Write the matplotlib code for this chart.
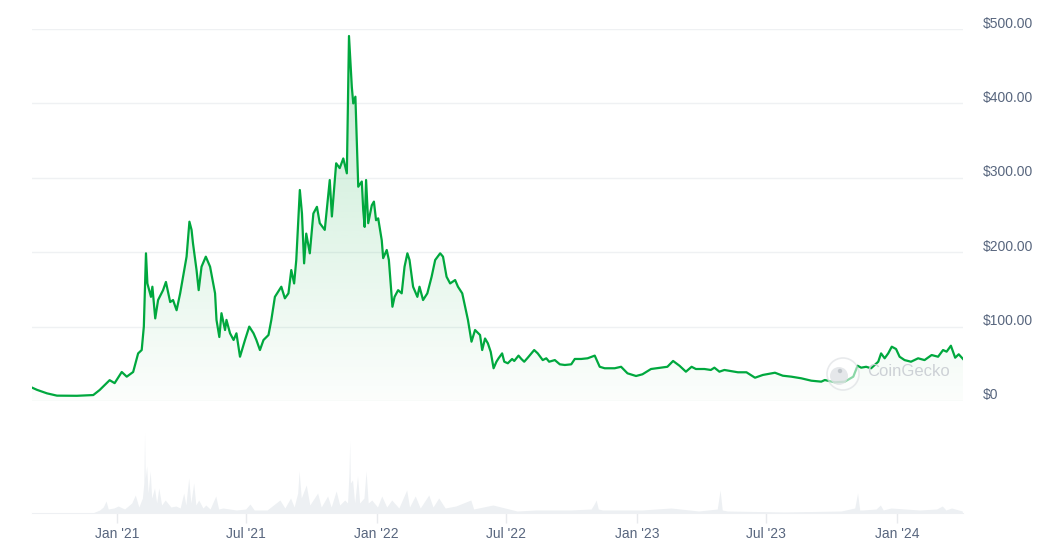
import numpy as np
import pandas as pd
import matplotlib
matplotlib.use("Agg")
import matplotlib.pyplot as plt
import matplotlib.dates as mdates
from matplotlib.colors import to_rgb
from matplotlib.patches import Circle
from matplotlib.transforms import ScaledTranslation

plt.rcParams['font.family'] = ['Liberation Sans', 'DejaVu Sans']

# price series (days after start date, USD)
start_date = "2020-09-04"
price_day = [
    0, 7, 21, 35, 63, 86, 95, 109, 116, 126, 133, 142, 149, 154, 157, 160, 162, 167,
    169, 173, 177, 184, 188, 194, 198, 203, 208, 212, 217, 221, 224, 226, 231, 234,
    238, 244, 250, 257, 259, 263, 266, 271, 273, 278, 283, 287, 292, 299, 305, 311,
    315, 320, 325, 332, 336, 341, 350, 355, 360, 364, 368, 371, 376, 379, 382, 385,
    390, 395, 400, 404, 411, 418, 421, 427, 432, 437, 442, 445, 449, 451, 454, 458,
    463, 465, 467, 469, 472, 477, 480, 483, 486, 491, 493, 498, 501, 506, 509, 514,
    519, 523, 527, 530, 535, 541, 544, 549, 555, 561, 566, 573, 577, 582, 587, 594,
    598, 604, 608, 612, 617, 622, 629, 632, 636,
    640, 644, 648, 652, 655, 660, 663, 668, 674, 677, 683, 687, 691, 696, 705, 710,
    717, 722, 726, 734, 741, 748, 757, 762, 771, 780, 790, 797, 804, 818, 827, 836,
    848, 857, 869, 883, 892, 900, 909, 918, 926, 932, 944, 953, 958, 965,
    972, 991, 1003, 1015, 1026, 1043, 1054, 1066, 1080, 1094, 1108, 1113, 1127, 1141,
    1153, 1159, 1164, 1171, 1178, 1188, 1192, 1197, 1202, 1207, 1213, 1218, 1225, 1234,
    1244, 1253, 1263, 1272, 1279, 1284, 1290, 1296, 1301, 1307,
]
price_usd = [
    18, 15, 10.3, 7.2, 7, 8, 14.8, 28, 24, 39, 32.7, 39, 64, 68.5, 100, 198.5, 158, 140,
    153.6, 111, 135.7, 149, 160, 133, 135.7, 122, 144.7, 167, 194, 241, 230, 212, 176, 149,
    180.5, 194, 180.5, 144.7, 109, 86, 118, 95.4, 109, 91, 82, 91, 59.5, 82, 100, 91,
    82, 68.5, 82, 88.7, 109, 140, 153.6, 138, 144.7, 176, 158, 189.5, 283.6, 252, 185, 225,
    198.5, 252, 261, 239, 230, 297, 248, 319.5, 313, 326, 306, 490.6, 422, 400, 409, 288,
    295, 256.7, 234, 297, 239, 263, 268, 243, 245.5, 216, 192, 203, 189.5, 126.7, 140, 149,
    144.7, 180.5, 198.5, 189.5, 153.6, 140, 153.6, 135.7, 144.7, 167, 189.5, 198.5, 194, 167, 158, 162.6,
    153.6, 144.7, 126.7, 109, 79.7, 95.4, 88.7, 68.5, 84,
    77.5, 66, 44, 52.8, 57.4, 64, 52.8, 50.7, 56.5, 53.8, 61, 56.5, 52.8, 58.2, 68.5, 64,
    55, 57.4, 52.8, 55, 49.3, 48.4, 49.3, 56.5, 56.5, 57.4, 61, 46, 44, 44, 46, 37.2,
    33.6, 35.9, 43, 44.8, 46, 53.8, 47.4, 39.4, 46, 43, 43, 41.7, 44.8, 39.4,
    41.7, 38.6, 38.6, 31.3, 35, 38, 34, 32.7, 30.5, 27.3, 26, 28.2, 25.1, 26,
    32.7, 47.4, 44.8, 46, 44, 52.8, 64, 57.4, 64, 73, 69.9, 59.5, 55, 52.8,
    57.4, 55, 61.8, 59.5, 68.5, 66.3, 74.3, 58.2, 62.8, 56.5,
]

# trading volume (relative heights, no axis shown)
vol_day = [
    0, 85, 95, 100, 104, 107, 115, 121, 130, 140, 145, 150, 155, 157, 158, 159, 161, 163,
    166, 168, 172, 175, 178, 182, 187, 195, 202, 208, 213, 216, 220, 223, 227, 230, 234,
    240, 244, 250, 258, 262, 268, 287, 300, 306, 312, 330, 348, 355, 363, 368, 373, 375,
    378, 385, 390, 401, 406, 415, 420, 427, 432, 439, 443, 445, 446, 447, 450, 453, 457,
    460, 466, 469, 472, 477, 485, 491, 498, 505, 515, 526, 530, 538, 545, 557, 563, 571,
    580, 595, 616, 620, 647, 681, 707, 756, 785, 790, 792, 795, 801, 856, 897, 936, 962,
    966, 969, 976, 1056, 1136, 1155, 1159, 1162, 1166, 1185, 1191, 1195, 1206, 1246,
    1270, 1278, 1283, 1291, 1306,
]
vol_rel = [
    0, 0, 3, 6, 12, 4, 5, 7, 4, 10, 18, 6, 15, 30, 80, 35, 47, 20,
    42, 15, 25, 10, 25, 8, 13, 6, 7, 5, 20, 8, 35, 10, 30, 8, 13,
    5, 8, 4, 17, 4, 5, 3, 4, 9, 3, 3, 13, 5, 15, 6, 20, 42,
    15, 28, 8, 20, 6, 17, 6, 22, 8, 13, 10, 40, 72, 30, 33, 10, 37,
    10, 15, 42, 10, 13, 6, 17, 6, 13, 5, 23, 6, 17, 5, 18, 6, 15,
    5, 7, 13, 4, 8, 2, 3, 3, 4, 10, 13, 4, 3, 3, 5, 2, 4,
    23, 3, 2, 1, 2, 5, 20, 3, 3, 4, 8, 3, 5, 3,
    4, 7, 3, 5, 2,
]

y_ticks = [0, 100, 200, 300, 400, 500]
y_labels = ["$0", "$100.00", "$200.00", "$300.00", "$400.00", "$500.00"]
x_ticks = ["2021-01-01", "2021-07-01", "2022-01-01", "2022-07-01",
           "2023-01-01", "2023-07-01", "2024-01-01"]
x_labels = ["Jan '21", "Jul '21", "Jan '22", "Jul '22", "Jan '23", "Jul '23", "Jan '24"]

green = "#00a83e"
label_grey = "#58667e"

t0 = pd.Timestamp(start_date)
p_dates = t0 + pd.to_timedelta(price_day, unit="D")
v_dates = t0 + pd.to_timedelta(vol_day, unit="D")
x0, x1 = mdates.date2num(p_dates[0]), mdates.date2num(p_dates[-1])

W, H = 1058, 556
fig = plt.figure(figsize=(W / 100, H / 100), dpi=100)
left, right = 32 / W, 963 / W
ax = fig.add_axes([left, (H - 401) / H, right - left, (401 - 29) / H])
axv = fig.add_axes([left, (H - 513) / H, right - left, (513 - 401) / H], sharex=ax)

# price line with gradient fill underneath
poly = ax.fill_between(p_dates, price_usd, 0, facecolor="none", edgecolor="none")
grad = np.zeros((256, 1, 4))
grad[..., :3] = to_rgb(green)
grad[..., 3] = np.linspace(0.015, 0.24, 256)[:, None]
im = ax.imshow(grad, aspect="auto", origin="lower", extent=[x0, x1, 0, 500], zorder=1)
im.set_clip_path(poly.get_paths()[0], transform=ax.transData)
ax.plot(p_dates, price_usd, color=green, lw=1.6, solid_joinstyle="round", zorder=3)

ax.set_xlim(x0, x1)
ax.set_ylim(0, 500)
ax.set_yticks(y_ticks)
ax.set_yticklabels(y_labels)
ax.yaxis.tick_right()
ax.tick_params(axis="y", length=0, pad=14.4, labelsize=10, labelcolor=label_grey)
for lab in ax.get_yticklabels():
    lab.set_horizontalalignment("left")
    lab.set_transform(lab.get_transform() + ScaledTranslation(0, 7 / 100, fig.dpi_scale_trans))
ax.tick_params(axis="x", bottom=False, labelbottom=False)
ax.grid(axis="y", color="#eff1f3", lw=1)
ax.set_axisbelow(True)
for s in ax.spines.values():
    s.set_visible(False)

# watermark (pixel coordinates measured from the bottom of the figure)
ax.add_patch(Circle((843, H - 374), 16, transform=None, facecolor="white", alpha=0.55,
                    edgecolor="#d6d9dd", lw=1.2, zorder=5))
ax.add_patch(Circle((839, H - 376), 9, transform=None, facecolor="#dde0e3", alpha=0.75,
                    edgecolor="none", zorder=5))
ax.add_patch(Circle((840, H - 371), 2.2, transform=None, facecolor="#b9bec4", alpha=0.8,
                    edgecolor="none", zorder=5))
fig.text(867 / W, (H - 372) / H, "CoinGecko", fontsize=12, color="#cdd1d6",
         ha="left", va="center", zorder=6)

# volume
axv.fill_between(v_dates, vol_rel, 0, color="#edf0f3", lw=0)
axv.set_ylim(0, 112)
axv.set_yticks([])
axv.set_xticks(pd.to_datetime(x_ticks))
axv.set_xticklabels(x_labels)
axv.tick_params(axis="x", length=7.2, width=1, color="#e8eaed", pad=3,
                labelsize=10, labelcolor=label_grey)
for name, s in axv.spines.items():
    s.set_visible(name == "bottom")
axv.spines["bottom"].set_color("#eef0f3")
axv.patch.set_alpha(0)
axv.set_xlim(x0, x1)

fig.savefig("out.png", dpi=100)
